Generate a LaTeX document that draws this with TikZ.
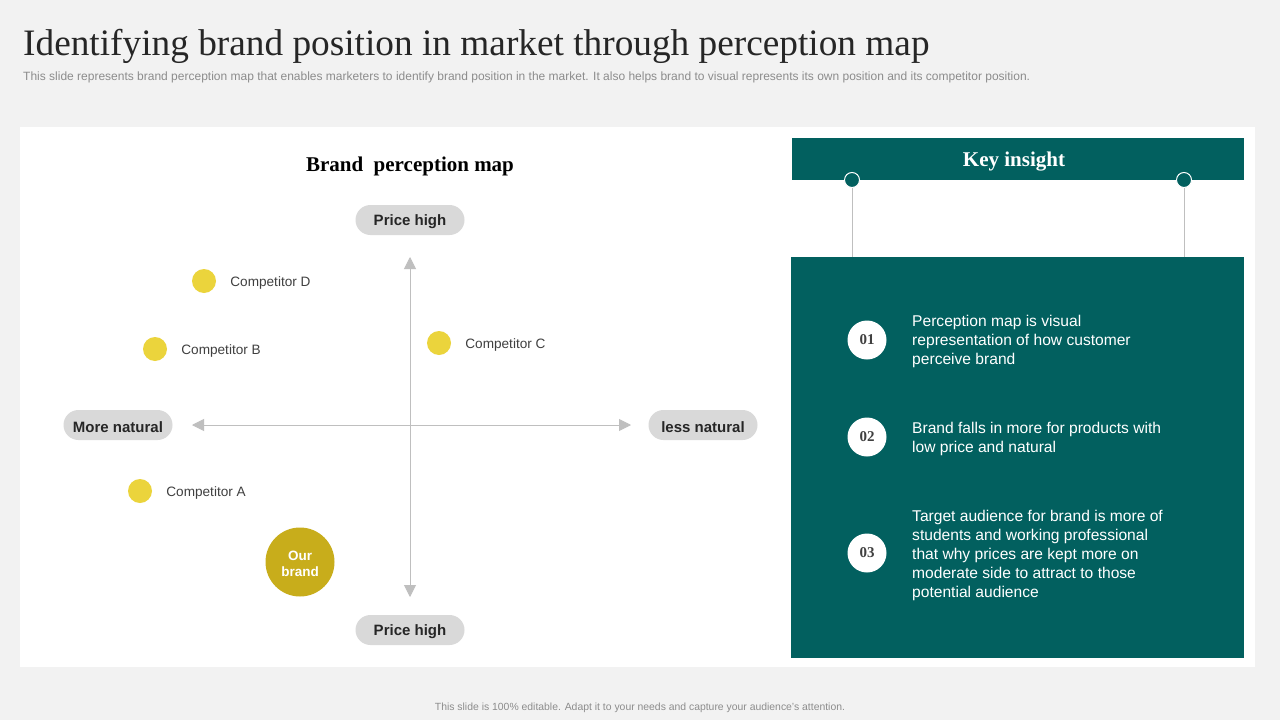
\documentclass[tikz,border=0pt]{standalone}
\usepackage{fontspec}
\setmainfont{Liberation Serif}
\setsansfont{Liberation Sans}
\usetikzlibrary{arrows.meta,positioning}
\definecolor{slidebg}{HTML}{F2F2F2}
\definecolor{teal}{HTML}{02605F}
\definecolor{pillgray}{HTML}{D9D9D9}
\definecolor{axisgray}{HTML}{BFBFBF}
\definecolor{dotyellow}{HTML}{EBD43C}
\definecolor{brandgold}{HTML}{C8AD1B}
\definecolor{darktext}{HTML}{262626}
\definecolor{labeltext}{HTML}{404040}
\definecolor{subgray}{HTML}{8C8C8C}
\newcommand{\fs}[2]{\fontsize{#1}{#2}\selectfont}

\begin{document}
\begin{tikzpicture}[
    x=1pt, y=-1pt,
    pill/.style={fill=pillgray, rounded corners=15pt, minimum width=109pt, minimum height=30pt,
                 inner sep=0pt, font=\sffamily\bfseries\fs{15}{18}, text=darktext},
    pilltext/.style={font=\sffamily\bfseries\fs{15}{18}, text=darktext, yshift=-2pt},
    dot/.style={circle, fill=dotyellow, minimum size=24pt, inner sep=0pt},
    complabel/.style={right=14pt, yshift=-1.5pt, font=\sffamily\fs{13.6}{16}, text=labeltext, inner sep=0pt},
    axis/.style={axisgray, line width=0.9pt, {Triangle[length=12pt,width=12pt]}-{Triangle[length=12pt,width=12pt]}},
    numdot/.style={circle, fill=white, minimum size=39pt, inner sep=0pt,
                   font=\bfseries\fs{15}{18}, text=labeltext},
    insight/.style={anchor=west, align=left, font=\sffamily\fs{15.6}{19}, text=white,
                    inner sep=0pt},
    pin/.style={circle, fill=teal, draw=white, line width=1pt, minimum size=15pt, inner sep=0pt},
    hang/.style={axisgray, line width=0.9pt}
]
    % slide background and panel
    \fill[slidebg] (0,0) rectangle (1280,720);
    \fill[white] (20,127) rectangle (1255,667);

    % heading
    \node[anchor=base west, inner sep=0pt, font=\fs{37.3}{40}, text=darktext] (title) at (23,55)
        {Identifying brand position in market through perception map};
    \node[anchor=west, inner sep=0pt, font=\sffamily\fs{12}{14}, text=subgray] (subtitle) at (23,77.5)
        {This slide represents brand perception map that enables marketers to identify brand position in the market. It also helps brand to visual represents its own position and its competitor position.};

    % perception map
    \node[font=\bfseries\fs{21}{24}, text=black] (maptitle) at (410,166) {Brand\ \ perception map};
    \node[pill] (top)   at (410,220) {};
    \node[pilltext] at (top) {Price high};
    \node[pill] (bot)   at (410,630) {};
    \node[pilltext] at (bot) {Price high};
    \node[pill] (left)  at (118,425) {};
    \node[pilltext] at (left) {More natural};
    \node[pill] (right) at (703,425) {};
    \node[pilltext] at (right) {less natural};

    \coordinate (axN) at (410,257);
    \coordinate (axS) at (410,597);
    \coordinate (axW) at (192,425);
    \coordinate (axE) at (631,425);
    \draw[axis] (axN) -- (axS);
    \draw[axis] (axW) -- (axE);

    \node[dot] (compD) at (204,281) {};
    \node[complabel] at (compD.east) {Competitor D};
    \node[dot] (compB) at (155,349) {};
    \node[complabel] at (compB.east) {Competitor B};
    \node[dot] (compC) at (439,343) {};
    \node[complabel] at (compC.east) {Competitor C};
    \node[dot] (compA) at (140,491) {};
    \node[complabel] at (compA.east) {Competitor A};

    \node[circle, fill=brandgold, minimum size=69pt, inner sep=0pt, align=center,
          font=\sffamily\bfseries\fs{13.5}{16}, text=white] (ours) at (300,562) {};
    \node[align=center, font=\sffamily\bfseries\fs{13.5}{16}, text=white, yshift=-1.5pt] at (ours) {Our\\brand};

    % key insight
    \fill[teal] (792,138) rectangle (1244,180);
    \node[font=\bfseries\fs{21}{24}, text=white] (keyhead) at (1014,162) {Key insight};
    \fill[teal] (791,257) rectangle (1244,658);
    \coordinate (boxL) at (852,257);
    \coordinate (boxR) at (1184,257);
    \node[pin] (pinL) at (852,180) {};
    \node[pin] (pinR) at (1184,180) {};
    \draw[hang] (pinL) -- (boxL);
    \draw[hang] (pinR) -- (boxR);

    \node[numdot] (n1) at (867,340) {01};
    \node[insight] (t1) at (912,341)
        {Perception map is visual\\representation of how customer\\perceive brand};
    \node[numdot] (n2) at (867,437) {02};
    \node[insight] (t2) at (912,438.5)
        {Brand falls in more for products with\\low price and natural};
    \node[numdot] (n3) at (867,553) {03};
    \node[insight] (t3) at (912,555)
        {Target audience for brand is more of\\students and working professional\\that why prices are kept more on\\moderate side to attract to those\\potential audience};

    % footer
    \node[font=\sffamily\fs{10.4}{12}, text=subgray] (footer) at (640,708)
        {This slide is 100\% editable. Adapt it to your needs and capture your audience's attention.};
\end{tikzpicture}
\end{document}
